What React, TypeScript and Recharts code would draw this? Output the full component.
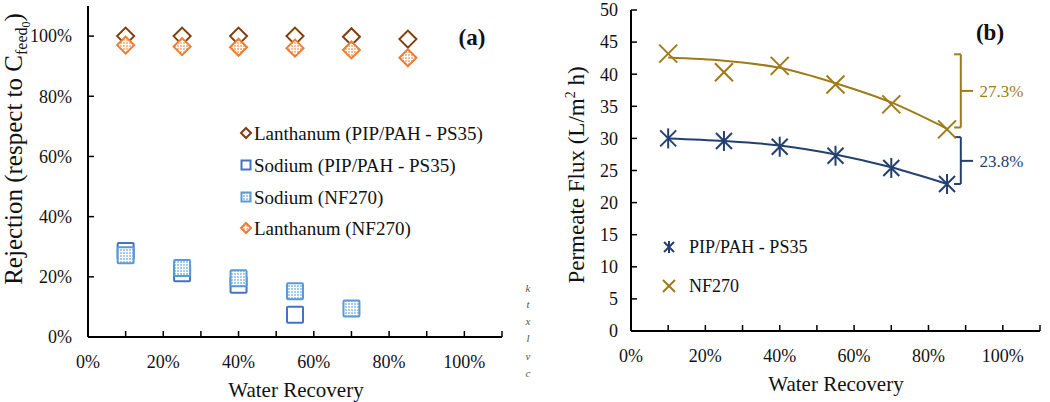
import React from 'react';
import { ComposedChart, Scatter, Line, XAxis, YAxis, ReferenceLine, ReferenceDot } from 'recharts';

const FONT = 'Liberation Serif';

// ---------- Panel (a): rejection ----------
const recovery = [10, 25, 40, 55, 70, 85];
const laPipRejection = [100, 100, 100, 100, 99.8, 99.0];
const naPipRecovery = [10, 25, 40, 55];
const naPipRejection = [28.6, 21.2, 17.4, 7.4];
const naNfRecovery = [10, 25, 40, 55, 70];
const naNfRejection = [27.2, 22.9, 19.5, 15.2, 9.5];
const laNfRejection = [97.0, 96.5, 96.3, 96.0, 95.4, 92.8];

const recoveryTicks = [0, 10, 20, 30, 40, 50, 60, 70, 80, 90, 100, 110];
const rejectionTicks = [0, 20, 40, 60, 80, 100];

// ---------- Panel (b): permeate flux ----------
const pipFlux = [30.0, 29.6, 28.7, 27.3, 25.4, 22.9];
const nfFlux = [43.2, 40.3, 41.3, 38.4, 35.3, 31.4];
const pipFluxTrend = [30.0, 29.6, 28.9, 27.5, 25.5, 22.9];
const nfFluxTrend = [42.6, 42.1, 41.0, 38.6, 35.6, 31.5];
const fluxTicks = [0, 5, 10, 15, 20, 25, 30, 35, 40, 45, 50];

const nfDecline = { top: 43.1, bottom: 31.7, mid: 37.4, label: '27.3%' };
const pipDecline = { top: 30.2, bottom: 22.9, mid: 26.5, label: '23.8%' };

const toPts = (xs: number[], ys: number[]) => xs.map((x, i) => ({ x, y: ys[i] }));

const C_LA_PIP = '#843C0C';
const C_LA_NF = '#ED7D31';
const C_NA_PIP = '#4472C4';
const C_NA_NF = '#5B9BD5';
const C_NAVY = '#24406F';
const C_OLIVE = '#9E7B18';

const fmtX = (v: number) => (v % 20 === 0 && v <= 100 ? `${v}%` : '');
const fmtPct = (v: number) => `${v}%`;
const blank = () => '';

const tickStyle = { fontFamily: FONT, fontSize: 18, fill: '#111', style: { fontFamily: FONT } };
const axisLine = { stroke: '#000', strokeWidth: 2 };
const tickLine = { stroke: '#000', strokeWidth: 1.5 };
const serif = { fontFamily: FONT };

const diamond = (cx: number, cy: number, s: number) =>
  `M${cx},${cy - s} L${cx + s},${cy} L${cx},${cy + s} L${cx - s},${cy} Z`;

const DiamondShape = (stroke: string, fill: string) => (p: any) => (
  <path d={diamond(p.cx, p.cy, 8.5)} stroke={stroke} strokeWidth={2} fill={fill} />
);
const SquareShape = (stroke: string, fill: string) => (p: any) => (
  <rect x={p.cx - 8} y={p.cy - 8} width={16} height={16} rx={1} stroke={stroke} strokeWidth={2} fill={fill} />
);
const StarShape = (color: string) => (p: any) => (
  <g stroke={color} strokeWidth={2}>
    <line x1={p.cx - 8} y1={p.cy - 8} x2={p.cx + 8} y2={p.cy + 8} />
    <line x1={p.cx - 8} y1={p.cy + 8} x2={p.cx + 8} y2={p.cy - 8} />
    <line x1={p.cx} y1={p.cy - 10} x2={p.cx} y2={p.cy + 10} />
  </g>
);
const CrossShape = (color: string) => (p: any) => (
  <g stroke={color} strokeWidth={2}>
    <line x1={p.cx - 9} y1={p.cy - 9} x2={p.cx + 9} y2={p.cy + 9} />
    <line x1={p.cx - 9} y1={p.cy + 9} x2={p.cx + 9} y2={p.cy - 9} />
  </g>
);

const TextShape = (label: string, color: string) => (p: any) => (
  <text x={p.cx} y={p.cy} dy="0.35em" fontSize={17} fill={color} style={serif}>
    {label}
  </text>
);

const Bracket = (b: typeof nfDecline, color: string) => {
  const hook = 86.9;
  const spine = 88.7;
  const tick = 92.0;
  const seg = (x1: number, y1: number, x2: number, y2: number, k: string) => (
    <ReferenceLine
      key={k}
      segment={[{ x: x1, y: y1 }, { x: x2, y: y2 }]}
      stroke={color}
      strokeWidth={2}
      ifOverflow="visible"
    />
  );
  return [
    seg(hook, b.top, spine, b.top, b.label + 't'),
    seg(spine, b.top, spine, b.bottom, b.label + 's'),
    seg(hook, b.bottom, spine, b.bottom, b.label + 'b'),
    seg(spine, b.mid, tick, b.mid, b.label + 'm'),
    <ReferenceDot
      key={b.label + 'txt'}
      x={93.7}
      y={b.mid}
      r={0}
      ifOverflow="visible"
      shape={TextShape(b.label, color)}
    />,
  ];
};

const laPipPts = toPts(recovery, laPipRejection);
const naPipPts = toPts(naPipRecovery, naPipRejection);
const naNfPts = toPts(naNfRecovery, naNfRejection);
const laNfPts = toPts(recovery, laNfRejection);
const pipPts = toPts(recovery, pipFlux);
const nfPts = toPts(recovery, nfFlux);
const pipTrendPts = toPts(recovery, pipFluxTrend);
const nfTrendPts = toPts(recovery, nfFluxTrend);

export default function App() {
  return (
    <div
      style={{
        position: 'absolute',
        left: 0,
        top: 0,
        width: 1050,
        height: 402,
        background: '#fff',
        overflow: 'hidden',
        fontFamily: FONT,
      }}
    >
      <svg width={0} height={0} style={{ position: 'absolute' }}>
        <defs>
          <pattern id="dotOrange" width="3" height="3" patternUnits="userSpaceOnUse">
            <rect width="3" height="3" fill="#fff" />
            <rect width="2" height="2" fill="#F6BF98" />
          </pattern>
          <pattern id="dotBlue" width="3" height="3" patternUnits="userSpaceOnUse">
            <rect width="3" height="3" fill="#fff" />
            <rect width="2" height="2" fill="#A9CBEA" />
          </pattern>
        </defs>
      </svg>

      {/* Panel (a) */}
      <div style={{ position: 'absolute', left: 0, top: 0 }}>
        <ComposedChart width={520} height={402} margin={{ top: 6, right: 18, bottom: 0, left: 0 }}>
          <XAxis dataKey="x" type="number" domain={[0, 110]} ticks={recoveryTicks} interval={0} tickFormatter={fmtX} tickSize={-6} tickMargin={24} height={65} axisLine={axisLine} tickLine={tickLine} tick={tickStyle} allowDataOverflow />
          <XAxis xAxisId="top" orientation="top" type="number" domain={[0, 110]} ticks={recoveryTicks} interval={0} tickFormatter={blank} tickSize={-6} height={0} axisLine={axisLine} tickLine={tickLine} allowDataOverflow />
          <YAxis type="number" domain={[0, 110]} ticks={rejectionTicks} interval={0} tickFormatter={fmtPct} tickSize={-6} tickMargin={22} width={88} axisLine={axisLine} tickLine={tickLine} tick={tickStyle} allowDataOverflow />
          <YAxis yAxisId="right" orientation="right" type="number" domain={[0, 110]} ticks={rejectionTicks} interval={0} tickFormatter={blank} tickSize={-6} width={0} axisLine={axisLine} tickLine={tickLine} allowDataOverflow />
          <Scatter data={laPipPts} dataKey="y" shape={DiamondShape(C_LA_PIP, '#fff')} isAnimationActive={false} />
          <Scatter data={naPipPts} dataKey="y" shape={SquareShape(C_NA_PIP, '#fff')} isAnimationActive={false} />
          <Scatter data={naNfPts} dataKey="y" shape={SquareShape(C_NA_NF, 'url(#dotBlue)')} isAnimationActive={false} />
          <Scatter data={laNfPts} dataKey="y" shape={DiamondShape(C_LA_NF, 'url(#dotOrange)')} isAnimationActive={false} />
        </ComposedChart>
      </div>

      {/* Panel (b) */}
      <div style={{ position: 'absolute', left: 520, top: 0 }}>
        <ComposedChart width={530} height={402} margin={{ top: 10, right: 10, bottom: 0, left: 0 }}>
          <XAxis dataKey="x" type="number" domain={[0, 110]} ticks={recoveryTicks} interval={0} tickFormatter={fmtX} tickSize={-6} tickMargin={24} height={71} axisLine={axisLine} tickLine={tickLine} tick={tickStyle} allowDataOverflow />
          <XAxis xAxisId="top" orientation="top" type="number" domain={[0, 110]} ticks={recoveryTicks} interval={0} tickFormatter={blank} tickSize={-6} height={0} axisLine={axisLine} tickLine={tickLine} allowDataOverflow />
          <YAxis type="number" domain={[0, 50]} ticks={fluxTicks} interval={0} tickSize={-6} tickMargin={19} width={111} axisLine={axisLine} tickLine={tickLine} tick={tickStyle} allowDataOverflow />
          <YAxis yAxisId="right" orientation="right" type="number" domain={[0, 50]} ticks={fluxTicks} interval={0} tickFormatter={blank} tickSize={-6} width={0} axisLine={axisLine} tickLine={tickLine} allowDataOverflow />
          <Line data={nfTrendPts} dataKey="y" type="monotone" stroke={C_OLIVE} strokeWidth={2} dot={false} isAnimationActive={false} />
          <Line data={pipTrendPts} dataKey="y" type="monotone" stroke={C_NAVY} strokeWidth={2} dot={false} isAnimationActive={false} />
          <Scatter data={pipPts} dataKey="y" shape={StarShape(C_NAVY)} isAnimationActive={false} />
          <Scatter data={nfPts} dataKey="y" shape={CrossShape(C_OLIVE)} isAnimationActive={false} />
          {Bracket(nfDecline, C_OLIVE)}
          {Bracket(pipDecline, C_NAVY)}
        </ComposedChart>
      </div>

      {/* Titles, legends, panel letters */}
      <svg width={1050} height={402} style={{ position: 'absolute', left: 0, top: 0, pointerEvents: 'none', fontFamily: FONT }}>
        <text x={296} y={390} textAnchor="middle" dy="0.35em" fontSize={21} fill="#111" style={serif}>
          Water Recovery
        </text>
        <text transform="translate(13,149) rotate(-90)" textAnchor="middle" dy="0.35em" fontSize={25} fill="#111" style={serif}>
          Rejection (respect to C
          <tspan fontSize={16} dy="5">feed</tspan>
          <tspan fontSize={12} dy="3">0</tspan>
          <tspan fontSize={25} dy="-8">)</tspan>
        </text>
        <text x={472} y={37} textAnchor="middle" dy="0.35em" fontSize={23} fontWeight="bold" fill="#111" style={serif}>
          (a)
        </text>

        <path d={diamond(246, 133, 5)} stroke={C_LA_PIP} strokeWidth={2} fill="#fff" />
        <text x={254} y={133} dy="0.35em" fontSize={19} fill="#111" style={serif}>Lanthanum (PIP/PAH - PS35)</text>
        <rect x={241.5} y={160.5} width={9} height={9} stroke={C_NA_PIP} strokeWidth={2} fill="#fff" />
        <text x={254} y={165} dy="0.35em" fontSize={19} fill="#111" style={serif}>Sodium (PIP/PAH - PS35)</text>
        <rect x={241.5} y={192.5} width={9} height={9} stroke={C_NA_NF} strokeWidth={2} fill="url(#dotBlue)" />
        <text x={254} y={197} dy="0.35em" fontSize={19} fill="#111" style={serif}>Sodium (NF270)</text>
        <path d={diamond(246, 228, 5)} stroke={C_LA_NF} strokeWidth={2} fill="url(#dotOrange)" />
        <text x={254} y={228} dy="0.35em" fontSize={19} fill="#111" style={serif}>Lanthanum (NF270)</text>

        <text x={836} y={384} textAnchor="middle" dy="0.35em" fontSize={21} fill="#111" style={serif}>
          Water Recovery
        </text>
        <text transform="translate(576,175) rotate(-90)" textAnchor="middle" dy="0.35em" fontSize={23} fill="#111" style={serif}>
          Permeate Flux (L/m
          <tspan fontSize={14} dy="-9">2</tspan>
          <tspan fontSize={23} dy="9"> h)</tspan>
        </text>
        <text x={990} y={32} textAnchor="middle" dy="0.35em" fontSize={23} fontWeight="bold" fill="#111" style={serif}>
          (b)
        </text>

        <g stroke={C_NAVY} strokeWidth={2}>
          <line x1={664} y1={242} x2={674} y2={252} />
          <line x1={664} y1={252} x2={674} y2={242} />
          <line x1={669} y1={241} x2={669} y2={253} />
        </g>
        <text x={689} y={247} dy="0.35em" fontSize={18} fill="#111" style={serif}>PIP/PAH - PS35</text>
        <g stroke={C_OLIVE} strokeWidth={2}>
          <line x1={663} y1={280} x2={675} y2={292} />
          <line x1={663} y1={292} x2={675} y2={280} />
        </g>
        <text x={689} y={286} dy="0.35em" fontSize={18} fill="#111" style={serif}>NF270</text>

        <g fontSize={11} fontStyle="italic" fill="#555" textAnchor="middle" style={serif}>
          <text x={528} y={288} dy="0.35em">k</text>
          <text x={528} y={304} dy="0.35em">t</text>
          <text x={528} y={321} dy="0.35em">x</text>
          <text x={528} y={338} dy="0.35em">l</text>
          <text x={528} y={356} dy="0.35em">v</text>
          <text x={528} y={373} dy="0.35em">c</text>
        </g>
      </svg>
    </div>
  );
}
